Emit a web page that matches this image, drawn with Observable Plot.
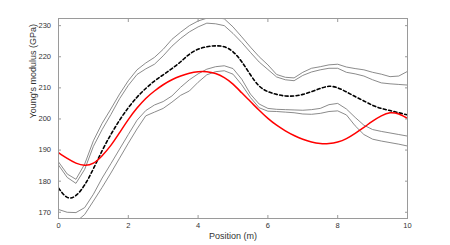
<!DOCTYPE html>
<html>
<head>
<meta charset="utf-8">
<script src="https://cdn.jsdelivr.net/npm/d3@7"></script>
<script src="https://cdn.jsdelivr.net/npm/@observablehq/plot@0.6"></script>
<style>
  html, body { margin: 0; padding: 0; background: #fff; }
</style>
</head>
<body>
<div id="chart"></div>
<script>
// Position along the member (m)
const position = [0,0.25,0.5,0.75,1,1.25,1.5,1.75,2,2.25,2.5,2.75,3,3.25,3.5,3.75,4,4.25,4.5,4.75,5,5.25,5.5,5.75,6,6.25,6.5,6.75,7,7.25,7.5,7.75,8,8.25,8.5,8.75,9,9.25,9.5,9.75,10];

// True field (red)
const trueModulus = [189.2,187.3,185.8,185.1,185.8,188.2,191.5,195.6,199.8,203.5,206.6,209.0,211.0,212.6,213.8,214.7,215.2,215.2,214.6,213.3,211.2,208.4,205.6,202.8,200.2,198.0,196.2,194.7,193.5,192.6,192.1,192.1,192.6,193.7,195.4,197.3,199.3,201.0,202.0,201.6,200.2];

// Estimated mean (black dashed)
const meanModulus = [177.8,174.8,175.4,178.8,184.0,189.8,195.0,199.6,203.6,207.0,209.8,212.2,214.2,216.2,218.4,220.8,222.4,223.2,223.5,223.2,221.6,218.4,214.2,210.6,208.8,207.9,207.4,207.4,207.9,208.8,209.8,210.5,210.0,208.7,207.2,205.8,204.4,203.4,202.7,202.0,201.3];

// Confidence bounds (grey)
const upperOuter = [186.2,182.3,180.6,185.5,193.0,198.6,203.2,208.0,212.3,215.8,218.0,219.8,222.4,225.6,227.9,230.0,231.5,232.4,232.6,232.2,229.6,226.4,223.1,220.0,217.4,214.3,213.4,213.2,215.0,216.3,216.8,217.4,217.6,216.7,216.2,215.8,215.0,214.4,213.6,213.8,215.3];
const upperInner = [185.2,181.2,179.3,183.8,191.2,196.6,201.4,206.5,210.8,214.3,216.1,217.6,220.3,223.4,225.9,228.0,229.6,230.8,230.6,230.0,227.5,224.6,221.4,218.3,215.9,213.5,212.6,212.3,214.0,215.1,215.8,216.3,216.3,215.0,214.5,213.8,212.6,211.6,211.3,211.1,210.9];
const lowerInner = [170.9,170.0,169.9,171.5,175.8,181.0,185.6,190.3,195.0,199.6,202.7,204.5,205.6,207.4,210.2,212.6,214.5,216.0,216.8,217.1,216.2,212.8,208.0,204.8,203.4,203.1,203.0,202.9,202.8,203.0,203.4,204.6,205.0,203.2,200.5,198.0,196.6,196.0,195.5,195.0,194.5];
const lowerOuter = [168.2,166.6,166.9,169.3,173.6,178.0,182.6,187.4,192.2,196.8,201.0,202.2,203.4,205.4,207.6,209.0,211.8,214.2,215.2,215.5,214.4,211.0,206.9,203.6,202.5,202.4,202.2,202.0,201.6,201.5,201.8,202.4,202.6,201.3,197.8,195.0,193.5,192.9,192.4,191.9,191.3];

// Axis ticks
const xTicks = [0,2,4,6,8,10];
const yTicks = [170,180,190,200,210,220,230];

const toRows = (vals, name) => vals.map((v, i) => ({x: position[i], y: v, s: name}));
const greyRows = [
  ...toRows(upperOuter, "u1"),
  ...toRows(upperInner, "u2"),
  ...toRows(lowerInner, "l1"),
  ...toRows(lowerOuter, "l2")
];
const redRows = toRows(trueModulus, "true");
const meanRows = toRows(meanModulus, "mean");

const axisStroke = "#9a9a9a";
const textFill = "#333";

const chart = Plot.plot({
  width: 450,
  height: 245,
  marginLeft: 58,
  marginRight: 43,
  marginTop: 18,
  marginBottom: 27,
  style: {fontFamily: "'Liberation Sans', Arial, Helvetica, sans-serif", background: "#fff"},
  x: {domain: [0, 10], label: null},
  y: {domain: [168, 232.3], label: null},
  marks: [
    Plot.line(greyRows, {x: "x", y: "y", z: "s", stroke: "#767676", strokeWidth: 0.85, clip: true}),
    Plot.line(meanRows, {x: "x", y: "y", stroke: "#000", strokeWidth: 1.6, strokeDasharray: "3,2.5", curve: "natural", clip: true}),
    Plot.line(redRows, {x: "x", y: "y", stroke: "#ff0000", strokeWidth: 1.5, curve: "natural", clip: true}),
    Plot.frame({stroke: axisStroke}),
    Plot.axisX({anchor: "bottom", ticks: xTicks, tickSize: -3, tickPadding: 7.5, stroke: axisStroke, fill: textFill, fontSize: 7.5, label: null}),
    Plot.axisX({anchor: "top", ticks: xTicks, tickSize: -3, tickFormat: () => "", stroke: axisStroke, label: null}),
    Plot.axisY({anchor: "left", ticks: yTicks, tickSize: -3, tickPadding: 10.5, stroke: axisStroke, fill: textFill, fontSize: 7.5, label: null}),
    Plot.axisY({anchor: "right", ticks: yTicks, tickSize: -3, tickFormat: () => "", stroke: axisStroke, label: null}),
    Plot.text(["Position (m)"], {text: d => d, frameAnchor: "bottom", dy: 20, fontSize: 9, fill: textFill}),
    Plot.text(["Young's modulus (GPa)"], {text: d => d, frameAnchor: "left", rotate: -90, dx: -25, fontSize: 9, fill: textFill})
  ]
});
document.getElementById("chart").appendChild(chart);
</script>
</body>
</html>
